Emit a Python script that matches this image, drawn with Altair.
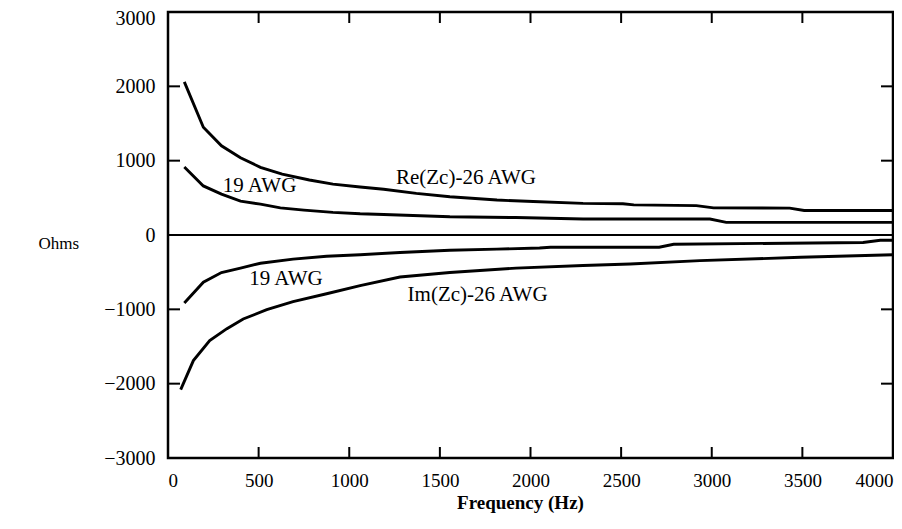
import altair as alt
import pandas as pd

# ---- data ----
re26_f = [90, 195, 295, 400, 510, 630, 780, 910, 1060, 1190, 1370, 1555, 1815, 2015, 2290, 2510, 2570, 2915, 3010, 3430, 3510, 4000]
re26_v = [2060, 1450, 1200, 1040, 910, 820, 740, 685, 645, 615, 560, 515, 470, 450, 425, 420, 405, 395, 365, 362, 330, 330]

re19_f = [90, 195, 295, 400, 510, 620, 750, 910, 1060, 1190, 1555, 1920, 2290, 2990, 3080, 4000]
re19_v = [915, 660, 550, 455, 415, 365, 335, 305, 285, 275, 245, 235, 215, 215, 170, 170]

im19_f = [90, 195, 295, 400, 510, 690, 875, 1060, 1280, 1555, 1815, 2050, 2110, 2710, 2790, 3835, 3930, 4000]
im19_v = [-915, -635, -505, -445, -380, -325, -285, -265, -235, -205, -190, -175, -165, -165, -125, -100, -70, -70]

im26_f = [70, 140, 230, 325, 415, 545, 690, 875, 1060, 1280, 1555, 1920, 2290, 2550, 2935, 3490, 4000]
im26_v = [-2080, -1690, -1420, -1260, -1130, -1005, -895, -790, -680, -565, -505, -445, -410, -390, -345, -300, -265]

label_text = ["19 AWG", "Re(Zc)-26 AWG", "19 AWG", "Im(Zc)-26 AWG"]
label_f = [505, 1644, 651, 1708]
label_v = [660, 765, -597, -812]

x_ticks = [0, 500, 1000, 1500, 2000, 2500, 3000, 3500, 4000]
y_ticks = [-3000, -2000, -1000, 0, 1000, 2000, 3000]

# ---- build tables ----
rows = []
for name, fs, vs in [("re26", re26_f, re26_v), ("re19", re19_f, re19_v),
                     ("im19", im19_f, im19_v), ("im26", im26_f, im26_v)]:
    for f, v in zip(fs, vs):
        rows.append({"series": name, "f": f, "v": v})
curves = pd.DataFrame(rows)
labels = pd.DataFrame({"text": label_text, "f": label_f, "v": label_v})
xt = pd.DataFrame({"f": x_ticks})
yt = pd.DataFrame({"v": y_ticks})
zero = pd.DataFrame({"v": [0]})

W, H = 725, 446
FONT = "Liberation Serif"
TL = 11

xscale = alt.Scale(domain=[0, 4000], nice=False, zero=False)
yscale = alt.Scale(domain=[-3000, 3000], nice=False, zero=False)

xaxis = alt.Axis(values=x_ticks, format="d", title="Frequency (Hz)", labelFlush=True,
                 labelPadding=13, labelFontSize=19, titleX=352, titleY=50,
                 titleBaseline="alphabetic",
                 titleFontWeight="bold", titleFontSize=19, titleFont=FONT)
yaxis = alt.Axis(values=y_ticks, format="d", title="Ohms", titleAngle=0, titleAlign="left",
                 titleBaseline="middle", titleX=-130, titleY=231, labelPadding=13,
                 labelOffset={"condition": {"test": "datum.value == 3000", "value": 6},
                              "value": 0},
                 titleFontWeight="normal", titleFontSize=17, titleFont=FONT)

lines = alt.Chart(curves).mark_line(color="black", strokeWidth=2.9).encode(
    x=alt.X("f:Q", scale=xscale, axis=xaxis),
    y=alt.Y("v:Q", scale=yscale, axis=yaxis),
    detail="series:N",
)

zero_line = alt.Chart(zero).mark_rule(color="black", strokeWidth=2).encode(
    y=alt.Y("v:Q", scale=yscale)
)

text = alt.Chart(labels).mark_text(font=FONT, fontSize=21, color="black",
                                   baseline="middle", align="center").encode(
    x=alt.X("f:Q", scale=xscale), y=alt.Y("v:Q", scale=yscale), text="text:N"
)

top_ticks = alt.Chart(xt).mark_rule(color="black", strokeWidth=2).encode(
    x=alt.X("f:Q", scale=xscale), y=alt.value(0), y2=alt.value(TL))
bot_ticks = alt.Chart(xt).mark_rule(color="black", strokeWidth=2).encode(
    x=alt.X("f:Q", scale=xscale), y=alt.value(H), y2=alt.value(H - TL))
left_ticks = alt.Chart(yt).mark_rule(color="black", strokeWidth=2).encode(
    y=alt.Y("v:Q", scale=yscale), x=alt.value(0), x2=alt.value(TL + 1))
right_ticks = alt.Chart(yt).mark_rule(color="black", strokeWidth=2).encode(
    y=alt.Y("v:Q", scale=yscale), x=alt.value(W), x2=alt.value(W - TL - 1))

chart = alt.layer(lines, zero_line, text, top_ticks, bot_ticks, left_ticks, right_ticks).properties(
    width=W, height=H,
    autosize=alt.AutoSizeParams(type="none"),
    padding={"left": 160, "top": 4, "right": 1, "bottom": 60},
    background="white",
).configure_view(stroke="black", strokeWidth=2.5).configure_axis(
    grid=False, domain=False, ticks=False,
    labelFont=FONT, labelFontSize=20, labelColor="black",
    titleColor="black",
)

chart.save("out.html", embed_options={"renderer": "svg", "actions": False})
